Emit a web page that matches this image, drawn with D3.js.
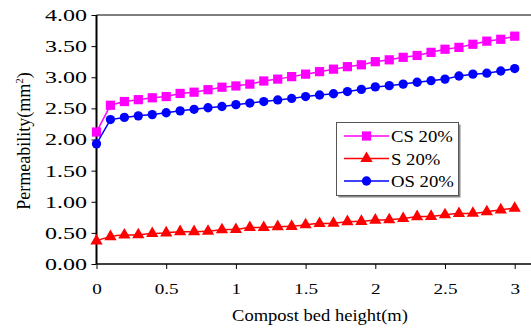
<!DOCTYPE html>
<html><head><meta charset="utf-8">
<script src="https://cdn.jsdelivr.net/npm/d3@7"></script>
</head><body style="margin:0">
<script>
const heights = d3.range(31).map(i => +(i*0.1).toFixed(1));
const csValues = [2.12,2.55,2.61,2.64,2.67,2.69,2.74,2.76,2.80,2.84,2.86,2.89,2.94,2.97,3.01,3.05,3.09,3.13,3.17,3.20,3.25,3.28,3.32,3.35,3.40,3.45,3.48,3.53,3.58,3.61,3.66];
const sValues = [0.37,0.44,0.465,0.47,0.49,0.50,0.52,0.52,0.525,0.55,0.555,0.585,0.585,0.60,0.605,0.63,0.65,0.655,0.68,0.685,0.705,0.71,0.73,0.76,0.765,0.79,0.81,0.815,0.84,0.87,0.895];
const osValues = [1.93,2.32,2.355,2.38,2.40,2.43,2.46,2.485,2.51,2.53,2.56,2.585,2.61,2.635,2.66,2.69,2.715,2.735,2.77,2.805,2.845,2.865,2.89,2.92,2.945,2.97,3.02,3.05,3.065,3.10,3.14];
const seriesNames = ["CS 20%","S 20%","OS 20%"];
const xTicks = [0,0.5,1,1.5,2,2.5,3];
const yTicks = [0,0.5,1,1.5,2,2.5,3,3.5,4];

const W=531,H=335;
const FONT='"Liberation Serif"';
const svg=d3.select("body").append("svg").attr("width",W).attr("height",H).style("display","block");
const x=d3.scaleLinear().domain([0,3]).range([96.5,514.7]);
const y=d3.scaleLinear().domain([0,4]).range([264,15]);

svg.append("line").attr("x1",96.5).attr("x2",W).attr("y1",15).attr("y2",15).attr("stroke","#000").attr("stroke-width",1);

const YS=1.5, XS=1.37;
const yAxis=svg.append("g").attr("transform","translate(96.5,0)")
  .call(d3.axisLeft(y).tickValues(yTicks).tickFormat(d3.format(".2f")).tickSize(5).tickPadding(4));
yAxis.attr("font-family",null).style("font-family",FONT);
yAxis.select(".domain").attr("stroke-width",2).attr("d","M0,264V15");
yAxis.selectAll("text").style("font-family",FONT).attr("font-size",16).attr("fill","#000")
  .attr("dy","0.34em").attr("x",-9.5/YS).attr("transform",`scale(${YS},1)`);

const xAxis=svg.append("g").attr("transform","translate(0,264)")
  .call(d3.axisBottom(x).tickValues(xTicks).tickFormat(d=>String(d)).tickSize(5).tickPadding(15));
xAxis.attr("font-family",null).style("font-family",FONT);
xAxis.select(".domain").attr("stroke-width",1.5).attr("d","M96.5,0H"+W);
xAxis.selectAll("text").style("font-family",FONT).attr("font-size",14).attr("fill","#000")
  .attr("transform",`scale(${XS},1)`);

svg.append("text").attr("transform","translate(320,321) scale(1.09,1)").attr("text-anchor","middle")
  .style("font-family",FONT).attr("font-size",17).text("Compost bed height(m)");
const yt=svg.append("text").attr("transform","translate(30,141) rotate(-90)").attr("text-anchor","middle")
  .style("font-family",FONT).attr("font-size",18);
yt.append("tspan").text("Permeability(mm");
yt.append("tspan").attr("dy",-7).attr("font-size",11).text("2");
yt.append("tspan").attr("dy",7).text(")");

const series=[
  {name:seriesNames[0],vals:csValues,color:"#FF00FF",sym:d3.symbolSquare,size:85,curve:d3.curveLinear},
  {name:seriesNames[1],vals:sValues,color:"#FF0000",sym:d3.symbolTriangle,size:65,curve:d3.curveMonotoneX},
  {name:seriesNames[2],vals:osValues,color:"#0000FF",sym:d3.symbolCircle,size:68,curve:d3.curveLinear}
];
series.forEach(s=>{
  const data=heights.map((h,i)=>[h,s.vals[i]]);
  svg.append("path").datum(data).attr("fill","none").attr("stroke",s.color).attr("stroke-width",1.5)
    .attr("d",d3.line().x(d=>x(d[0])).y(d=>y(d[1])).curve(s.curve));
  svg.append("g").selectAll("path").data(data).join("path")
    .attr("transform",d=>`translate(${x(d[0])},${y(d[1])})`)
    .attr("d",d3.symbol(s.sym,s.size)).attr("fill",s.color);
});

const lg=svg.append("g");
lg.append("rect").attr("x",338.5).attr("y",124.5).attr("width",122).attr("height",73).attr("fill","#888");
lg.append("rect").attr("x",336.5).attr("y",122.5).attr("width",122).attr("height",73).attr("fill","#fff").attr("stroke","#555").attr("stroke-width",1);
series.forEach((s,i)=>{
  const yy=136+i*22.5;
  lg.append("line").attr("x1",344).attr("x2",389).attr("y1",yy).attr("y2",yy).attr("stroke",s.color).attr("stroke-width",1.5);
  lg.append("path").attr("transform",`translate(366.5,${yy})`).attr("d",d3.symbol(s.sym,s.size)).attr("fill",s.color);
  lg.append("text").attr("transform",`translate(391,${yy+6}) scale(1.17,1)`).style("font-family",FONT).attr("font-size",16).text(s.name);
});
</script>
</body></html>
